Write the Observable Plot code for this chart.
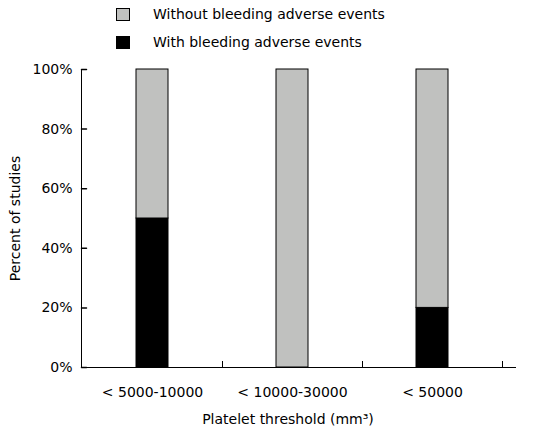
<!DOCTYPE html>
<html>
<head>
<meta charset="utf-8">
<script src="https://cdn.jsdelivr.net/npm/d3@7"></script>
<script src="https://cdn.jsdelivr.net/npm/@observablehq/plot@0.6"></script>
<style>
  body { margin: 0; background: #fff; font-family: "DejaVu Sans", sans-serif; }
  #legend { position: relative; width: 545px; height: 56px; font-size: 14px; color: #000; }
  .sw { position: absolute; left: 116px; width: 12px; height: 11px; border: 1px solid #000; }
  .lt { position: absolute; left: 153px; line-height: 16px; white-space: nowrap; }
</style>
</head>
<body>
<div id="legend"></div>
<div id="chart"></div>
<script>
const categories = ["< 5000-10000", "< 10000-30000", "< 50000"];
const seriesNames = ["With bleeding adverse events", "Without bleeding adverse events"];
const withBleeding = [50, 0, 20];
const withoutBleeding = [50, 100, 80];
const yTicks = [0, 20, 40, 60, 80, 100];
const seriesColors = ["#000000", "#c0c1bf"];

const rows = [];
categories.forEach((c, i) => {
  rows.push({category: c, series: seriesNames[0], value: withBleeding[i]});
  rows.push({category: c, series: seriesNames[1], value: withoutBleeding[i]});
});

// legend (order as in reference: without on top)
const legend = document.getElementById("legend");
[[1, 7], [0, 35]].forEach(([k, top]) => {
  const sw = document.createElement("div");
  sw.className = "sw";
  sw.style.top = (top + 1) + "px";
  sw.style.background = seriesColors[k];
  legend.appendChild(sw);
  const t = document.createElement("div");
  t.className = "lt";
  t.style.top = (top - 1) + "px";
  t.textContent = seriesNames[k];
  legend.appendChild(t);
});

const chart = Plot.plot({
  width: 545,
  height: 377,
  marginTop: 13,
  marginBottom: 66,
  marginLeft: 81,
  marginRight: 29,
  style: {fontFamily: "DejaVu Sans, sans-serif", fontSize: "14px", color: "#000", background: "#fff"},
  x: {domain: categories, range: [81, 502], padding: 0, label: null},
  y: {domain: [0, 100], label: null},
  color: {domain: seriesNames, range: seriesColors},
  marks: [
    Plot.barY(rows, {x: "category", y: "value", fill: "series", stroke: "#000", strokeWidth: 1, insetLeft: 54, insetRight: 54}),
    Plot.frame({anchor: "left", stroke: "#000"}),
    Plot.ruleY([0], {stroke: "#000"}),
    Plot.ruleX(categories, {x: d => d, y1: 0, y2: 0, insetTop: -6, dx: 70, stroke: "#000"}),
    Plot.vector(yTicks, {y: d => d, frameAnchor: "left", length: 5, rotate: 90, anchor: "start", stroke: "#000",
      shape: {draw(ctx, l) { ctx.moveTo(0, 0); ctx.lineTo(0, -l); }}}),
    Plot.axisY(yTicks, {tickSize: 0, tickPadding: 9, tickFormat: d => d + "%", label: "Percent of studies", labelAnchor: "center", labelArrow: "none", labelOffset: 71, fontSize: 14}),
    Plot.axisX({tickSize: 0, tickPadding: 20, label: null, fontSize: 14}),
    Plot.text(["Platelet threshold (mm\u00b3)"], {frameAnchor: "bottom", dy: 56, dx: -11, fontSize: 14})
  ]
});
document.getElementById("chart").appendChild(chart);
</script>
</body>
</html>
